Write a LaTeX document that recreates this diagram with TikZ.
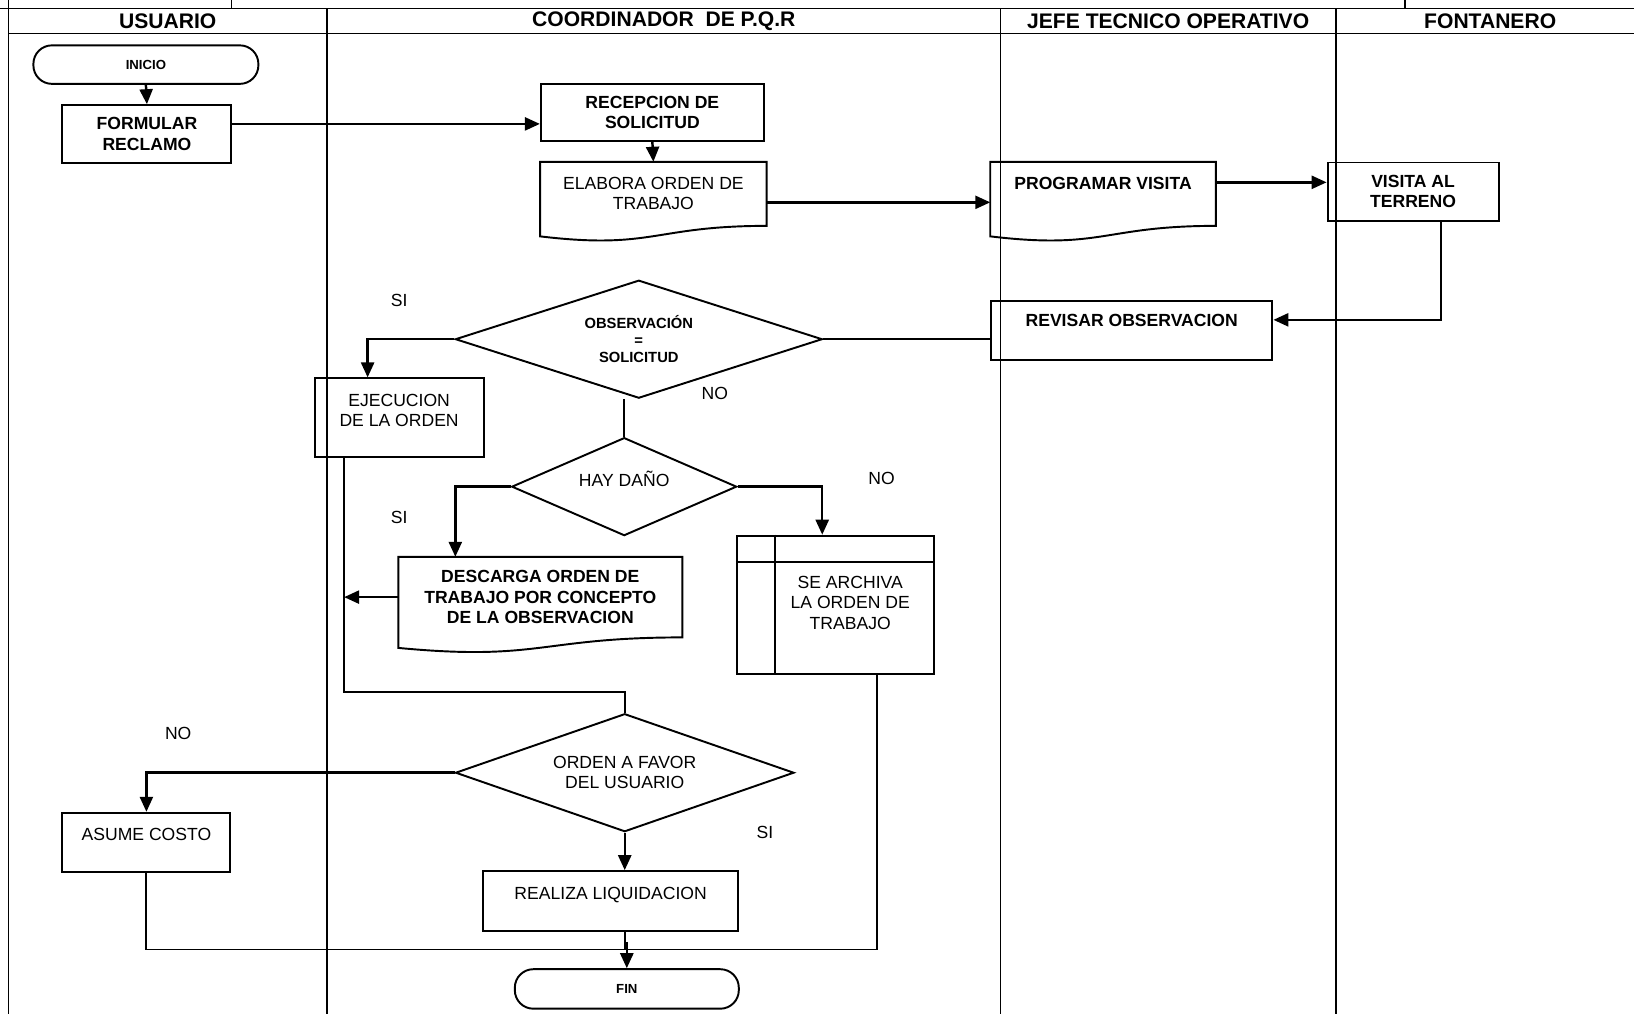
\documentclass[tikz,border=0pt]{standalone}
\usepackage{fontspec}
\setmainfont{Liberation Sans}
\usetikzlibrary{shapes.geometric,arrows.meta,calc}

\begin{document}
\begin{tikzpicture}[x=0.020842cm, y=-0.020842cm, line width=0.9pt,
  box/.style={draw, rectangle, line width=1.1pt, inner sep=2pt, align=center, font=\fontsize{10}{11.5}\selectfont},
  boxb/.style={box, font=\fontsize{10}{11.5}\selectfont\bfseries},
  term/.style={draw, rectangle, line width=1.1pt, rounded corners=0.37cm, font=\fontsize{7.5}{9}\selectfont\bfseries},
  decide/.style={draw, diamond, line width=1.1pt, aspect=3, inner sep=0pt, align=center, font=\fontsize{10}{11.5}\selectfont},
  doc/.style={rectangle, inner sep=2pt, align=center},
  head/.style={font=\fontsize{12}{14}\selectfont\bfseries},
  tag/.style={font=\fontsize{10}{12}\selectfont},
  arr/.style={line width=1.4pt, -{Triangle[length=0.3cm,width=0.26cm]}},
  conn/.style={line width=1.1pt}]
\useasboundingbox (0,0) rectangle (1568,973);
% carriles
\draw (0,8) -- (1568,8);
\draw (222,0) -- (222,8);
\draw (1348,0) -- (1348,8);
\draw (8,32) -- (1568,32);
\draw (8,0) -- (8,973);
\foreach \x in {314,960,1282}
  \draw (\x,8) -- (\x,973);
\node[head] (hUsuario) at (161,20) {USUARIO};
\node[head] (hCoord) at (637,20) {COORDINADOR\ \ DE P.Q.R};
\node[head] (hJefe) at (1121,20) {JEFE TECNICO OPERATIVO};
\node[head] (hFont) at (1430,20) {FONTANERO};
% pasos
\node[term, minimum width=4.5cm, minimum height=0.77cm] (inicio) at (140,62) {INICIO};
\node[boxb, minimum width=3.38cm, minimum height=1.15cm] (formular) at (141,128.5) {FORMULAR\\RECLAMO};
\node[boxb, minimum width=4.46cm, minimum height=1.13cm] (recep) at (626,108) {RECEPCION DE\\SOLICITUD};
\node[doc, minimum width=4.5cm, minimum height=1.25cm, font=\fontsize{10}{11.5}\selectfont] (elabora) at (627,186) {ELABORA ORDEN DE\\TRABAJO};
\draw[line width=1.1pt] (elabora.north west) -- (elabora.north east) -- (elabora.south east)
  .. controls (elabora.south) and ([yshift=-0.48cm]elabora.south) .. ([yshift=-0.21cm]elabora.south west) -- cycle;
\node[doc, minimum width=4.48cm, minimum height=1.25cm, font=\fontsize{10}{11.5}\selectfont\bfseries] (programar) at (1058.5,186) {PROGRAMAR VISITA\\~};
\draw[line width=1.1pt] (programar.north west) -- (programar.north east) -- (programar.south east)
  .. controls (programar.south) and ([yshift=-0.48cm]programar.south) .. ([yshift=-0.21cm]programar.south west) -- cycle;
\node[boxb, minimum width=3.42cm, minimum height=1.17cm] (visita) at (1356,184) {VISITA AL\\TERRENO};
\node[boxb, minimum width=5.63cm, minimum height=1.17cm] (revisar) at (1086,317) {REVISAR OBSERVACION\\~};
\node[decide, minimum width=7.34cm, minimum height=2.36cm, font=\fontsize{8.4}{9.5}\selectfont\bfseries] (obs) at (613,325.5) {OBSERVACIÓN\\=\\SOLICITUD};
\node[box, minimum width=3.38cm, minimum height=1.58cm] (ejec) at (383,401) {EJECUCION\\DE LA ORDEN\\[-2.7pt]~};
\node[decide, minimum width=4.5cm, minimum height=1.96cm] (hay) at (599,467) {HAY DAÑO\\[-2pt]~};
\node[doc, minimum width=5.65cm, minimum height=1.58cm, font=\fontsize{10}{11.5}\selectfont\bfseries] (descarga) at (518.5,573) {DESCARGA ORDEN DE\\TRABAJO POR CONCEPTO\\DE LA OBSERVACION};
\draw[line width=1.1pt] (descarga.north west) -- (descarga.north east) -- (descarga.south east)
  .. controls (descarga.south) and ([yshift=-0.48cm]descarga.south) .. ([yshift=-0.21cm]descarga.south west) -- cycle;
\node[box, minimum width=3.94cm, minimum height=2.77cm] (archiva) at (801.5,580.5) {\begin{tabular}{@{\hspace{0.6cm}}c@{}}SE ARCHIVA\\LA ORDEN DE\\TRABAJO\end{tabular}};
\draw[line width=1.1pt] ([xshift=0.79cm]archiva.north west) -- ([xshift=0.79cm]archiva.south west);
\draw[line width=1.1pt] ([yshift=-0.54cm]archiva.north west) -- ([yshift=-0.54cm]archiva.north east);
\node[decide, minimum width=6.77cm, minimum height=2.36cm] (orden) at (599.5,741.5) {ORDEN A FAVOR\\DEL USUARIO};
\node[box, minimum width=3.36cm, minimum height=1.19cm] (asume) at (140.5,808.5) {ASUME COSTO\\[-2.7pt]~};
\node[box, minimum width=5.09cm, minimum height=1.19cm] (realiza) at (586,864.5) {REALIZA LIQUIDACION\\[-2.7pt]~};
\node[term, minimum width=4.48cm, minimum height=0.79cm] (fin) at (601.5,949) {FIN};
% respuestas
\node[tag] (si1) at (383,288) {SI};
\node[tag] (no1) at (686,378) {NO};
\node[tag] (si2) at (383,497) {SI};
\node[tag] (no2) at (846,459) {NO};
\node[tag] (no3) at (171,704) {NO};
\node[tag] (si3) at (734,799) {SI};
% conexiones
\draw[arr] (inicio.south) -- (formular.north);
\path ([yshift=0.2cm]formular.east) coordinate (f1);
\draw[arr] (f1) -- (f1 -| recep.west);
\draw[arr] (recep.south) -- (elabora.north);
\path ([yshift=-0.17cm]elabora.east) coordinate (e1);
\draw[arr] (e1) -- (e1 -| programar.west);
\path ([yshift=0.23cm]programar.east) coordinate (p1);
\draw[arr] (p1) -- (p1 -| visita.west);
\draw[arr] ([xshift=0.56cm]visita.south) |- ([yshift=0.21cm]revisar.east);
\draw[conn] (obs.east) -- (obs.east -| revisar.west);
\draw[arr] (obs.west) -| ([xshift=-0.63cm]ejec.north);
\draw[conn] (hay.north) -- (hay.north |- obs.south);
\draw[arr] (hay.west) -| ([xshift=-1.7cm]descarga.north);
\draw[arr] (hay.east) -| ([xshift=-0.26cm]archiva.north);
\path ([xshift=-1.1cm]ejec.south) coordinate (j1);
\draw[conn] (j1) |- ([yshift=0.42cm]orden.north) -- (orden.north);
\draw[arr] (descarga.west) -- (descarga.west -| j1);
\draw[arr] (orden.west) -| (asume.north);
\draw[arr] (orden.south) -- (orden.south |- realiza.north);
\path ([yshift=0.375cm]fin.north) coordinate (j2);
\draw[conn] (asume.south) |- (j2) -| ([xshift=0.84cm]archiva.south);
\draw[conn] (orden.south |- realiza.south) -- (orden.south |- j2);
\draw[arr] ([yshift=0.15cm]j2) -- (fin.north);
\end{tikzpicture}
\end{document}
